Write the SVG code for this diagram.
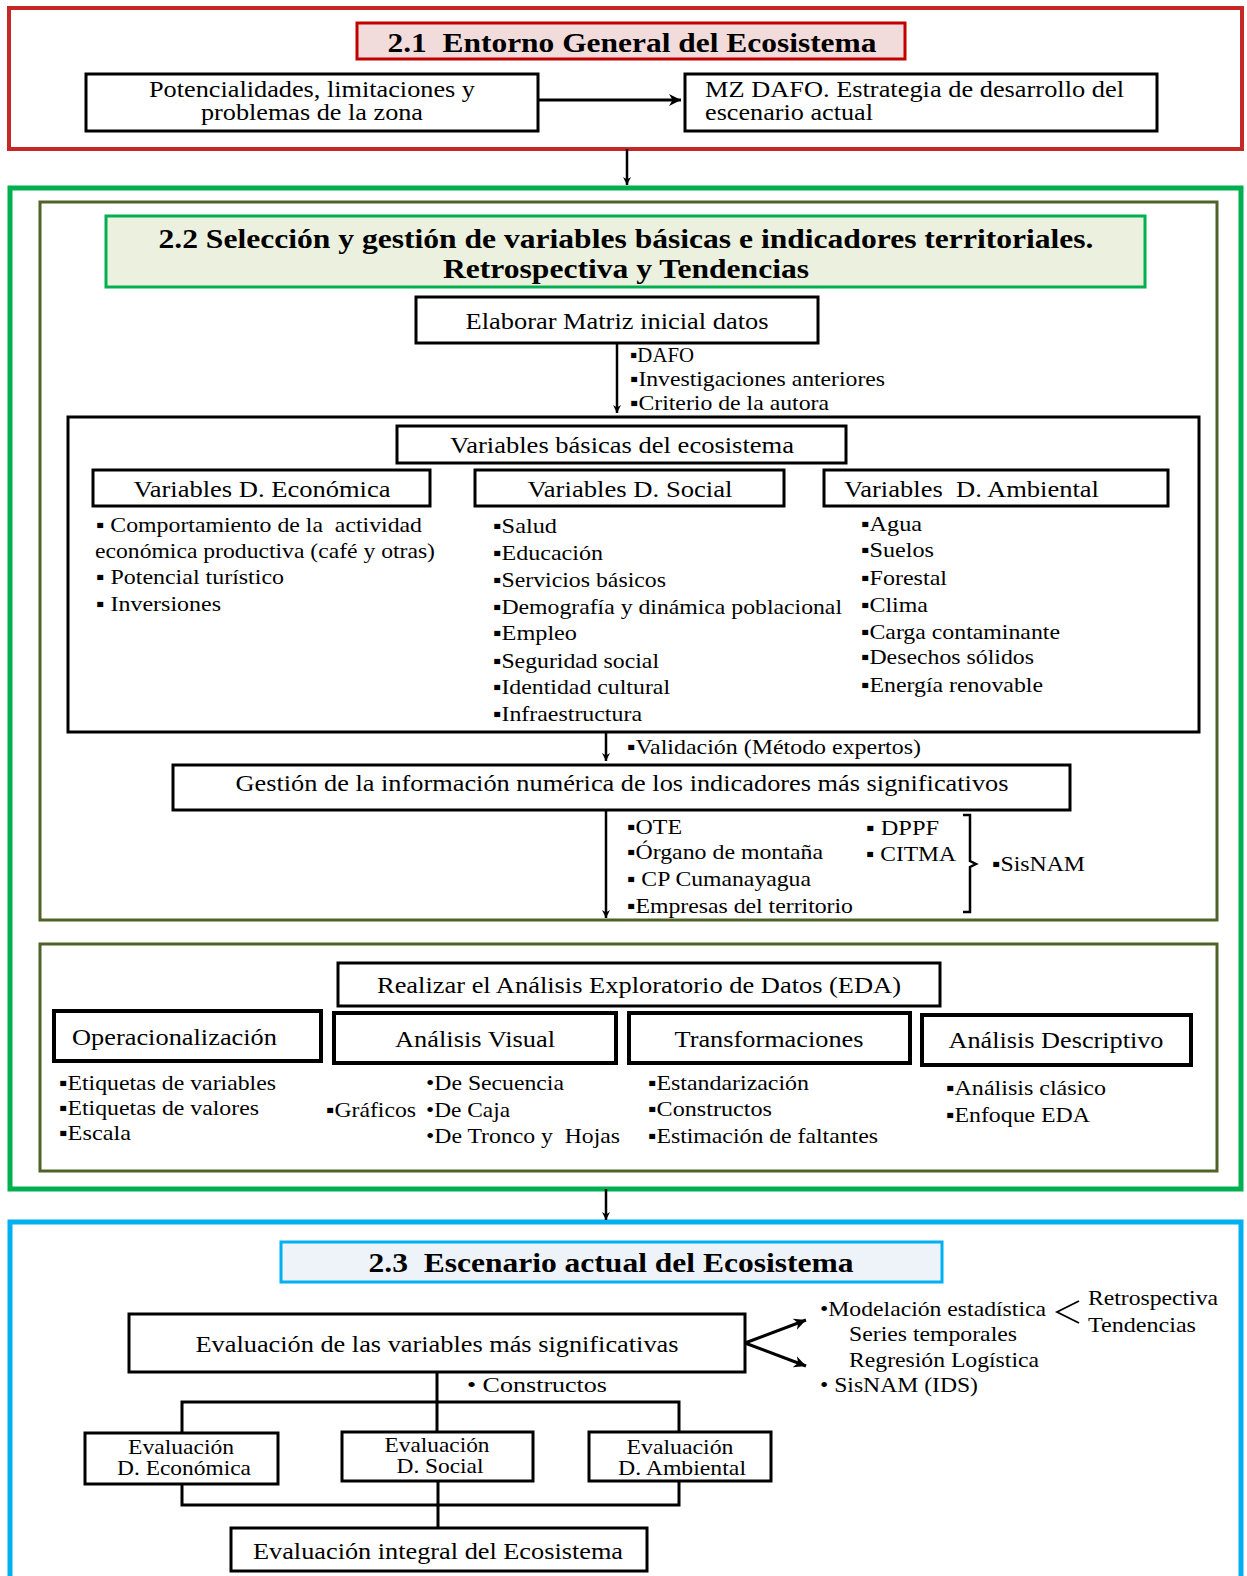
<svg xmlns="http://www.w3.org/2000/svg" width="1247" height="1576" viewBox="0 0 1247 1576">
<defs>
<marker id="ah" viewBox="0 0 10 10" refX="10" refY="5" markerWidth="8" markerHeight="8" markerUnits="userSpaceOnUse" orient="auto">
<path d="M0,0 L10,5 L0,10 L3,5 z" fill="#000"/>
</marker>
<marker id="ahb" viewBox="0 0 10 10" refX="10" refY="5" markerWidth="12" markerHeight="12" markerUnits="userSpaceOnUse" orient="auto">
<path d="M0,0 L10,5 L0,10 L3,5 z" fill="#000"/>
</marker>
</defs>
<style>
text{font-family:"Liberation Serif","Times New Roman",serif;fill:#000;white-space:pre}
.t{font-size:23px}
.s{font-size:21px}
.e{font-size:22px}
.h{font-size:28px;font-weight:bold}
.m{text-anchor:middle}
.box{fill:#fff;stroke:#000;stroke-width:3}
.bx4{fill:#fff;stroke:#000;stroke-width:4}
.ln{fill:none;stroke:#000;stroke-width:3}
.ar{fill:none;stroke:#000;stroke-width:2.5}
</style>
<rect width="1247" height="1576" fill="#fff"/>

<g id="sec21">
<rect x="9" y="8" width="1233" height="141" fill="#fff" stroke="#c62828" stroke-width="4"/>
</g>
<g id="title21">
<rect x="357" y="23" width="548" height="36" fill="#f2dcdb" stroke="#c00000" stroke-width="3"/>
<text class="h m" x="632" y="52" textLength="489" lengthAdjust="spacingAndGlyphs">2.1  Entorno General del Ecosistema</text>
</g>
<g id="potencialidades">
<rect class="box" x="86" y="74" width="452" height="57"/>
<text class="t m"><tspan x="312" y="97" textLength="326" lengthAdjust="spacingAndGlyphs">Potencialidades, limitaciones y</tspan><tspan x="312" y="120" textLength="222" lengthAdjust="spacingAndGlyphs">problemas de la zona</tspan></text>
</g>
<g id="mzdafo">
<rect class="box" x="685" y="74" width="472" height="57"/>
<text class="t"><tspan x="705" y="97" textLength="419" lengthAdjust="spacingAndGlyphs">MZ DAFO. Estrategia de desarrollo del</tspan><tspan x="705" y="120" textLength="168" lengthAdjust="spacingAndGlyphs">escenario actual</tspan></text>
</g>

<g id="sec22">
<rect x="10" y="188" width="1231" height="1001" fill="#fff" stroke="#00b050" stroke-width="5"/>
<rect x="40" y="202" width="1177" height="718" fill="#fff" stroke="#4f6228" stroke-width="3"/>
<rect x="40" y="944" width="1177" height="227" fill="#fff" stroke="#4f6228" stroke-width="3"/>
</g>
<g id="title22">
<rect x="106" y="216" width="1039" height="71" fill="#ebf1de" stroke="#00b050" stroke-width="3"/>
<text class="h m"><tspan x="626" y="248" textLength="935" lengthAdjust="spacingAndGlyphs">2.2 Selección y gestión de variables básicas e indicadores territoriales.</tspan><tspan x="626" y="278" textLength="366" lengthAdjust="spacingAndGlyphs">Retrospectiva y Tendencias</tspan></text>
</g>
<g id="matriz">
<rect class="box" x="416" y="297" width="402" height="46"/>
<text class="t m" x="617" y="329" textLength="303" lengthAdjust="spacingAndGlyphs">Elaborar Matriz inicial datos</text>
</g>
<g id="matriz-notes">
<text class="s" x="630" y="362" textLength="64" lengthAdjust="spacingAndGlyphs">▪DAFO</text>
<text class="s" x="630" y="386" textLength="255" lengthAdjust="spacingAndGlyphs">▪Investigaciones anteriores</text>
<text class="s" x="630" y="410" textLength="199" lengthAdjust="spacingAndGlyphs">▪Criterio de la autora</text>
</g>
<g id="variables">
<rect class="box" x="68" y="417" width="1131" height="315"/>
</g>
<g id="var-basicas">
<rect class="box" x="397" y="426" width="449" height="37"/>
<text class="t m" x="622" y="453" textLength="344" lengthAdjust="spacingAndGlyphs">Variables básicas del ecosistema</text>
</g>
<g id="var-eco">
<rect class="box" x="93" y="470" width="337" height="36"/>
<text class="t m" x="262" y="497" textLength="257" lengthAdjust="spacingAndGlyphs">Variables D. Económica</text>
<text class="s" x="96" y="532" textLength="326" lengthAdjust="spacingAndGlyphs">▪ Comportamiento de la  actividad</text>
<text class="s" x="95" y="558" textLength="340" lengthAdjust="spacingAndGlyphs">económica productiva (café y otras)</text>
<text class="s" x="96" y="584" textLength="188" lengthAdjust="spacingAndGlyphs">▪ Potencial turístico</text>
<text class="s" x="96" y="611" textLength="125" lengthAdjust="spacingAndGlyphs">▪ Inversiones</text>
</g>
<g id="var-soc">
<rect class="box" x="475" y="470" width="309" height="36"/>
<text class="t m" x="630" y="497" textLength="205" lengthAdjust="spacingAndGlyphs">Variables D. Social</text>
<text class="s" x="493" y="533" textLength="64" lengthAdjust="spacingAndGlyphs">▪Salud</text>
<text class="s" x="493" y="560" textLength="110" lengthAdjust="spacingAndGlyphs">▪Educación</text>
<text class="s" x="493" y="587" textLength="173" lengthAdjust="spacingAndGlyphs">▪Servicios básicos</text>
<text class="s" x="493" y="614" textLength="349" lengthAdjust="spacingAndGlyphs">▪Demografía y dinámica poblacional</text>
<text class="s" x="493" y="640" textLength="84" lengthAdjust="spacingAndGlyphs">▪Empleo</text>
<text class="s" x="493" y="668" textLength="166" lengthAdjust="spacingAndGlyphs">▪Seguridad social</text>
<text class="s" x="493" y="694" textLength="177" lengthAdjust="spacingAndGlyphs">▪Identidad cultural</text>
<text class="s" x="493" y="721" textLength="149" lengthAdjust="spacingAndGlyphs">▪Infraestructura</text>
</g>
<g id="var-amb">
<rect class="box" x="824" y="470" width="344" height="36"/>
<text class="t" x="844" y="497" textLength="255" lengthAdjust="spacingAndGlyphs">Variables  D. Ambiental</text>
<text class="s" x="861" y="531" textLength="61" lengthAdjust="spacingAndGlyphs">▪Agua</text>
<text class="s" x="861" y="557" textLength="73" lengthAdjust="spacingAndGlyphs">▪Suelos</text>
<text class="s" x="861" y="585" textLength="86" lengthAdjust="spacingAndGlyphs">▪Forestal</text>
<text class="s" x="861" y="612" textLength="67" lengthAdjust="spacingAndGlyphs">▪Clima</text>
<text class="s" x="861" y="639" textLength="199" lengthAdjust="spacingAndGlyphs">▪Carga contaminante</text>
<text class="s" x="861" y="664" textLength="173" lengthAdjust="spacingAndGlyphs">▪Desechos sólidos</text>
<text class="s" x="861" y="692" textLength="182" lengthAdjust="spacingAndGlyphs">▪Energía renovable</text>
</g>
<g id="validacion-note">
<text class="s" x="627" y="754" textLength="294" lengthAdjust="spacingAndGlyphs">▪Validación (Método expertos)</text>
</g>
<g id="gestion">
<rect class="box" x="173" y="765" width="897" height="45"/>
<text class="t m" x="622" y="791" textLength="773" lengthAdjust="spacingAndGlyphs">Gestión de la información numérica de los indicadores más significativos</text>
</g>
<g id="fuentes">
<text class="s" x="627" y="834" textLength="55" lengthAdjust="spacingAndGlyphs">▪OTE</text>
<text class="s" x="627" y="859" textLength="196" lengthAdjust="spacingAndGlyphs">▪Órgano de montaña</text>
<text class="s" x="627" y="886" textLength="184" lengthAdjust="spacingAndGlyphs">▪ CP Cumanayagua</text>
<text class="s" x="627" y="913" textLength="226" lengthAdjust="spacingAndGlyphs">▪Empresas del territorio</text>
<text class="s" x="866" y="835" textLength="73" lengthAdjust="spacingAndGlyphs">▪ DPPF</text>
<text class="s" x="866" y="861" textLength="90" lengthAdjust="spacingAndGlyphs">▪ CITMA</text>
<path d="M963,815 L970,815 L970,861 L976,864 L970,867 L970,912 L963,912" fill="none" stroke="#000" stroke-width="2.5"/>
<text class="s" x="992" y="871" textLength="93" lengthAdjust="spacingAndGlyphs">▪SisNAM</text>
</g>
<g id="eda">
<rect class="box" x="338" y="963" width="602" height="43"/>
<text class="t m" x="639" y="993" textLength="524" lengthAdjust="spacingAndGlyphs">Realizar el Análisis Exploratorio de Datos (EDA)</text>
</g>
<g id="operacionalizacion">
<rect class="bx4" x="54" y="1011" width="267" height="50"/>
<text class="t" x="72" y="1045" textLength="205" lengthAdjust="spacingAndGlyphs">Operacionalización</text>
<text class="s" x="59" y="1090" textLength="217" lengthAdjust="spacingAndGlyphs">▪Etiquetas de variables</text>
<text class="s" x="59" y="1115" textLength="200" lengthAdjust="spacingAndGlyphs">▪Etiquetas de valores</text>
<text class="s" x="59" y="1140" textLength="72" lengthAdjust="spacingAndGlyphs">▪Escala</text>
</g>
<g id="visual">
<rect class="bx4" x="334" y="1013" width="282" height="50"/>
<text class="t m" x="475" y="1047" textLength="160" lengthAdjust="spacingAndGlyphs">Análisis Visual</text>
<text class="s" x="326" y="1117" textLength="90" lengthAdjust="spacingAndGlyphs">▪Gráficos</text>
<text class="s" x="426" y="1090" textLength="138" lengthAdjust="spacingAndGlyphs">•De Secuencia</text>
<text class="s" x="426" y="1117" textLength="84" lengthAdjust="spacingAndGlyphs">•De Caja</text>
<text class="s" x="426" y="1143" textLength="194" lengthAdjust="spacingAndGlyphs">•De Tronco y  Hojas</text>
</g>
<g id="transformaciones">
<rect class="bx4" x="629" y="1013" width="281" height="50"/>
<text class="t m" x="769" y="1047" textLength="189" lengthAdjust="spacingAndGlyphs">Transformaciones</text>
<text class="s" x="648" y="1090" textLength="161" lengthAdjust="spacingAndGlyphs">▪Estandarización</text>
<text class="s" x="648" y="1116" textLength="124" lengthAdjust="spacingAndGlyphs">▪Constructos</text>
<text class="s" x="648" y="1143" textLength="230" lengthAdjust="spacingAndGlyphs">▪Estimación de faltantes</text>
</g>
<g id="descriptivo">
<rect class="bx4" x="922" y="1015" width="269" height="50"/>
<text class="t m" x="1056" y="1048" textLength="215" lengthAdjust="spacingAndGlyphs">Análisis Descriptivo</text>
<text class="s" x="946" y="1095" textLength="160" lengthAdjust="spacingAndGlyphs">▪Análisis clásico</text>
<text class="s" x="946" y="1122" textLength="144" lengthAdjust="spacingAndGlyphs">▪Enfoque EDA</text>
</g>

<g id="sec23">
<rect x="10" y="1222" width="1231" height="360" fill="#fff" stroke="#00b0f0" stroke-width="5"/>
</g>
<g id="title23">
<rect x="281" y="1242" width="661" height="40" fill="#eef3fa" stroke="#00b0f0" stroke-width="3"/>
<text class="h m" x="611" y="1272" textLength="485" lengthAdjust="spacingAndGlyphs">2.3  Escenario actual del Ecosistema</text>
</g>
<g id="evaluacion">
<rect class="box" x="129" y="1314" width="616" height="58"/>
<text class="t m" x="437" y="1352" textLength="483" lengthAdjust="spacingAndGlyphs">Evaluación de las variables más significativas</text>
</g>
<g id="modelacion">
<text class="s" x="820" y="1316" textLength="226" lengthAdjust="spacingAndGlyphs">•Modelación estadística</text>
<text class="s" x="849" y="1341" textLength="168" lengthAdjust="spacingAndGlyphs">Series temporales</text>
<text class="s" x="849" y="1367" textLength="190" lengthAdjust="spacingAndGlyphs">Regresión Logística</text>
<text class="s" x="820" y="1392" textLength="158" lengthAdjust="spacingAndGlyphs">• SisNAM (IDS)</text>
<path d="M1079,1301 L1057,1312 L1079,1323" fill="none" stroke="#000" stroke-width="1.8"/>
<text class="s" x="1088" y="1305" textLength="130" lengthAdjust="spacingAndGlyphs">Retrospectiva</text>
<text class="s" x="1088" y="1332" textLength="108" lengthAdjust="spacingAndGlyphs">Tendencias</text>
</g>
<g id="eval-eco">
<rect class="box" x="85" y="1433" width="193" height="51"/>
<text class="e m"><tspan x="181" y="1454" textLength="106" lengthAdjust="spacingAndGlyphs">Evaluación</tspan><tspan x="184" y="1475" textLength="134" lengthAdjust="spacingAndGlyphs">D. Económica</tspan></text>
</g>
<g id="eval-soc">
<rect class="box" x="342" y="1432" width="191" height="49"/>
<text class="e m"><tspan x="437" y="1452" textLength="105" lengthAdjust="spacingAndGlyphs">Evaluación</tspan><tspan x="440" y="1473" textLength="87" lengthAdjust="spacingAndGlyphs">D. Social</tspan></text>
</g>
<g id="eval-amb">
<rect class="box" x="589" y="1432" width="182" height="49"/>
<text class="e m"><tspan x="680" y="1454" textLength="107" lengthAdjust="spacingAndGlyphs">Evaluación</tspan><tspan x="682" y="1475" textLength="128" lengthAdjust="spacingAndGlyphs">D. Ambiental</tspan></text>
</g>
<g id="integral">
<rect class="box" x="231" y="1528" width="416" height="43"/>
<text class="t m" x="438" y="1559" textLength="370" lengthAdjust="spacingAndGlyphs">Evaluación integral del Ecosistema</text>
</g>
<g id="constructos-note">
<text class="s" x="467" y="1392" textLength="140" lengthAdjust="spacingAndGlyphs">• Constructos</text>
</g>

<g id="connectors">
<line class="ln" x1="538" y1="100" x2="681" y2="100" marker-end="url(#ahb)"/>
<line class="ar" x1="627" y1="149" x2="627" y2="185" marker-end="url(#ah)"/>
<line class="ar" x1="617" y1="343" x2="617" y2="413" marker-end="url(#ah)"/>
<line class="ar" x1="606" y1="732" x2="606" y2="761" marker-end="url(#ah)"/>
<line class="ar" x1="606" y1="810" x2="606" y2="918" marker-end="url(#ah)"/>
<line class="ar" x1="606" y1="1189" x2="606" y2="1220" marker-end="url(#ah)"/>
<line class="ln" x1="745" y1="1343" x2="806" y2="1320" marker-end="url(#ahb)"/>
<line class="ln" x1="745" y1="1343" x2="806" y2="1366" marker-end="url(#ahb)"/>
<path class="ln" d="M437,1372 V1402 M182,1433 V1402 H679 V1432 M437,1402 V1432"/>
<path class="ln" d="M182,1484 V1505 H679 V1481 M438,1481 V1528"/>
</g>
</svg>
